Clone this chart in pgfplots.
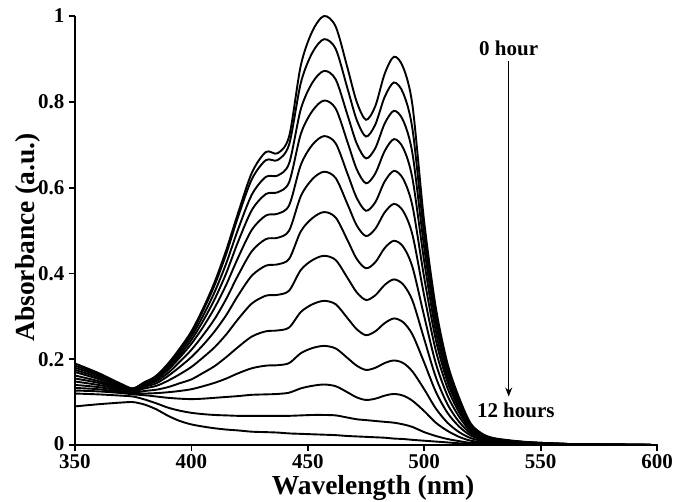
\documentclass[border=0pt]{standalone}
\usepackage{fontspec}
\setmainfont{Liberation Serif}
\usepackage{pgfplots}
\pgfplotsset{compat=1.18}
\usepackage{pgfplotstable}
\usetikzlibrary{arrows.meta}

% absorbance spectra, one column per hour (0 h ... 12 h)
\pgfplotstableread{
x   h0    h1    h2    h3    h4    h5    h6    h7    h8    h9    h10   h11   h12
350 0.185 0.190 0.180 0.175 0.170 0.162 0.155 0.148 0.140 0.133 0.127 0.120 0.090
360 0.165 0.168 0.162 0.158 0.154 0.149 0.145 0.140 0.135 0.130 0.125 0.118 0.095
370 0.140 0.142 0.139 0.137 0.135 0.133 0.131 0.129 0.126 0.123 0.121 0.115 0.099
375 0.132 0.132 0.131 0.130 0.129 0.128 0.127 0.125 0.122 0.120 0.118 0.113 0.100
380 0.145 0.147 0.146 0.144 0.142 0.139 0.136 0.132 0.126 0.120 0.116 0.106 0.094
385 0.162 0.160 0.158 0.155 0.153 0.149 0.144 0.138 0.129 0.121 0.113 0.097 0.083
390 0.190 0.187 0.183 0.179 0.175 0.168 0.161 0.150 0.135 0.123 0.110 0.087 0.068
395 0.225 0.222 0.216 0.210 0.204 0.194 0.182 0.165 0.144 0.126 0.108 0.080 0.056
400 0.265 0.260 0.253 0.245 0.236 0.222 0.205 0.182 0.153 0.130 0.107 0.075 0.048
405 0.318 0.313 0.301 0.289 0.275 0.256 0.233 0.204 0.168 0.137 0.108 0.072 0.043
410 0.380 0.373 0.357 0.340 0.320 0.294 0.265 0.228 0.184 0.145 0.110 0.070 0.039
415 0.455 0.446 0.424 0.401 0.374 0.341 0.303 0.258 0.205 0.155 0.112 0.069 0.036
420 0.540 0.531 0.502 0.473 0.436 0.395 0.348 0.293 0.228 0.167 0.114 0.068 0.034
426 0.635 0.620 0.584 0.548 0.502 0.452 0.395 0.330 0.253 0.179 0.117 0.068 0.031
432 0.683 0.664 0.625 0.585 0.535 0.480 0.418 0.348 0.265 0.185 0.118 0.068 0.030
437 0.680 0.664 0.628 0.589 0.539 0.483 0.421 0.350 0.267 0.186 0.119 0.068 0.029
442 0.720 0.701 0.657 0.613 0.559 0.500 0.434 0.360 0.274 0.191 0.122 0.068 0.027
447 0.885 0.844 0.783 0.725 0.653 0.580 0.498 0.408 0.310 0.214 0.132 0.069 0.026
452 0.965 0.915 0.845 0.779 0.700 0.620 0.529 0.431 0.328 0.226 0.138 0.070 0.025
457 1.000 0.946 0.872 0.803 0.720 0.637 0.543 0.441 0.336 0.231 0.141 0.070 0.024
462 0.975 0.923 0.852 0.784 0.703 0.622 0.530 0.431 0.328 0.225 0.137 0.069 0.023
467 0.880 0.832 0.770 0.707 0.633 0.562 0.478 0.390 0.296 0.203 0.123 0.064 0.021
471 0.800 0.758 0.703 0.643 0.576 0.512 0.434 0.356 0.270 0.185 0.111 0.060 0.020
475 0.758 0.719 0.668 0.610 0.546 0.487 0.412 0.338 0.256 0.175 0.105 0.058 0.019
479 0.790 0.747 0.692 0.633 0.566 0.504 0.426 0.349 0.265 0.180 0.108 0.056 0.018
483 0.865 0.811 0.749 0.685 0.614 0.542 0.459 0.373 0.284 0.191 0.115 0.054 0.017
487 0.905 0.845 0.779 0.713 0.639 0.562 0.476 0.386 0.295 0.197 0.119 0.052 0.015
491 0.880 0.820 0.756 0.692 0.620 0.545 0.462 0.374 0.286 0.191 0.115 0.048 0.014
495 0.790 0.735 0.678 0.620 0.556 0.489 0.414 0.336 0.257 0.171 0.103 0.042 0.012
500 0.520 0.490 0.460 0.428 0.390 0.348 0.300 0.247 0.192 0.130 0.079 0.030 0.010
505 0.320 0.300 0.285 0.265 0.245 0.220 0.190 0.158 0.124 0.085 0.052 0.021 0.008
510 0.190 0.178 0.170 0.158 0.147 0.133 0.115 0.095 0.075 0.052 0.033 0.014 0.006
515 0.110 0.102 0.097 0.090 0.084 0.076 0.066 0.054 0.043 0.030 0.019 0.009 0.004
520 0.050 0.047 0.045 0.042 0.040 0.036 0.032 0.027 0.022 0.016 0.010 0.005 0.003
525 0.026 0.024 0.023 0.022 0.021 0.019 0.017 0.015 0.013 0.010 0.007 0.004 0.002
530 0.016 0.015 0.014 0.014 0.013 0.012 0.011 0.010 0.009 0.007 0.005 0.003 0.002
540 0.009 0.008 0.008 0.008 0.007 0.007 0.006 0.006 0.005 0.004 0.003 0.002 0.001
550 0.005 0.005 0.005 0.004 0.004 0.004 0.004 0.003 0.003 0.002 0.002 0.001 0.001
565 0.002 0.002 0.002 0.002 0.002 0.002 0.002 0.001 0.001 0.001 0.001 0.001 0.000
600 0.000 0.000 0.000 0.000 0.000 0.000 0.000 0.000 0.000 0.000 0.000 0.000 0.000
}\spectra

\begin{document}
\begin{tikzpicture}
\begin{axis}[
    at={(0pt,0pt)}, anchor=south west,
    scale only axis,
    width=582pt, height=429pt,
    xmin=350, xmax=600,
    ymin=0, ymax=1,
    axis x line*=bottom,
    axis y line*=left,
    axis line style={line width=2.2pt},
    xtick={350,400,450,500,550,600},
    ytick={0,0.2,0.4,0.6,0.8,1},
    yticklabels={\raisebox{2.5pt}{0},0.2,0.4,0.6,0.8,1},
    xticklabels={350,400,450,500,550,600},
    tick align=outside,
    major tick length=6pt,
    tick style={line width=1.8pt,black},
    tick label style={font=\fontsize{21}{21}\selectfont\bfseries,inner sep=0pt},
    xticklabel style={yshift=-3pt},
    yticklabel style={xshift=-4.3pt},
    label style={font=\fontsize{27.5}{28}\selectfont\bfseries,inner sep=0pt},
    xlabel={Wavelength (nm)},
    ylabel={Absorbance (a.u.)},
    xlabel style={at={([yshift=-49.5pt]axis description cs:0.512,0)},anchor=base},
    ylabel style={at={([xshift=-40pt]axis description cs:0,0.484)},anchor=base,rotate=0},
    cycle list={{black,solid}},
    every axis plot post/.append style={black,solid,line width=1.9pt,smooth,no markers},
]
\addplot table[x=x,y=h0]{\spectra};
\addplot table[x=x,y=h1]{\spectra};
\addplot table[x=x,y=h2]{\spectra};
\addplot table[x=x,y=h3]{\spectra};
\addplot table[x=x,y=h4]{\spectra};
\addplot table[x=x,y=h5]{\spectra};
\addplot table[x=x,y=h6]{\spectra};
\addplot table[x=x,y=h7]{\spectra};
\addplot table[x=x,y=h8]{\spectra};
\addplot table[x=x,y=h9]{\spectra};
\addplot table[x=x,y=h10]{\spectra};
\addplot table[x=x,y=h11]{\spectra};
\addplot table[x=x,y=h12]{\spectra};

\draw[line width=1.3pt,-{Stealth[length=9pt,width=7pt]}] (axis cs:536.3,0.895) -- (axis cs:536.3,0.113);
\node[anchor=base,font=\fontsize{21}{21}\selectfont\bfseries] at (axis cs:536.3,0.907) {0 hour};
\node[anchor=base west,inner xsep=0pt,font=\fontsize{21}{21}\selectfont\bfseries] at (axis cs:522.6,0.063) {12 hours};
\end{axis}
\pgfresetboundingbox
\path[use as bounding box] (-75pt,-56pt) rectangle (601pt,445pt);
\end{tikzpicture}
\end{document}
